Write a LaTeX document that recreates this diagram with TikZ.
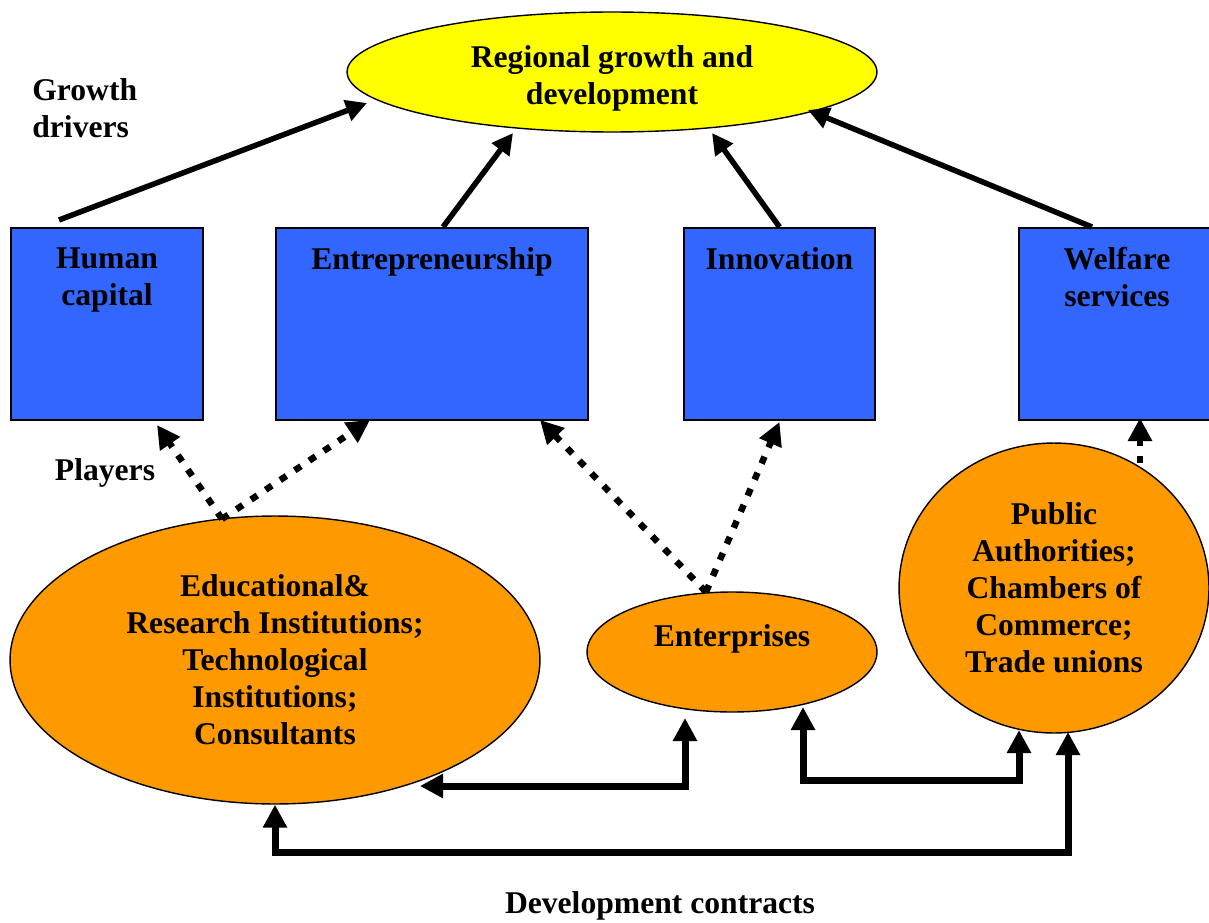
\documentclass[tikz,border=0pt]{standalone}
\usepackage{fontspec}
\setmainfont{Liberation Serif}
\usetikzlibrary{arrows.meta,shapes.geometric}
\definecolor{boxblue}{HTML}{3366FF}
\definecolor{orng}{HTML}{FF9900}
\definecolor{yel}{HTML}{FFFF00}
\begin{document}
\begin{tikzpicture}[x=0.02cm,y=-0.02cm,
  every node/.style={font=\bfseries\fontsize{18}{21}\selectfont, align=center},
  driver/.style={draw=black, line width=0.8pt, fill=boxblue, minimum height=3.84cm, inner sep=0pt},
  player/.style={ellipse, draw=black, line width=0.8pt, fill=orng, inner sep=0pt},
  goal/.style={ellipse, draw=black, line width=0.8pt, fill=yel, inner sep=0pt},
  growth/.style={-{Triangle[length=0.42cm,width=0.42cm]}, line width=0.11cm},
  dotarrow/.style={-{Triangle[length=0.46cm,width=0.46cm]}, line width=0.13cm, dash pattern=on 0.15cm off 0.2cm},
  contract/.style={{Triangle[length=0.46cm,width=0.46cm]}-{Triangle[length=0.46cm,width=0.46cm]}, line width=0.14cm},
  side/.style={align=left, inner sep=0pt},
  boxlabel/.style={anchor=north, yshift=-0.28cm},
]
\clip (0,0) rectangle (1209,922);
\fill[white] (0,0) rectangle (1209,922);

% goal
\node[goal, minimum width=10.6cm, minimum height=2.4cm] (goal) at (612,72) {};
\node (goaltext) at (612,78) {Regional growth and\\development};

% growth drivers
\node[driver, minimum width=3.84cm, label={[boxlabel]north:Human\\capital}] (hc) at (107,324) {};
\node[driver, minimum width=6.24cm, label={[boxlabel]north:Entrepreneurship}] (ent) at (432,324) {};
\node[driver, minimum width=3.82cm, label={[boxlabel]north:Innovation}] (inn) at (779.5,324) {};
\node[driver, minimum width=3.92cm, label={[boxlabel]north:Welfare\\services}] (wel) at (1117,324) {};

% players
\node[player, minimum width=10.6cm, minimum height=5.76cm] (edu) at (275,660)
  {Educational\&\\Research Institutions;\\Technological\\Institutions;\\Consultants};
\node[player, minimum width=5.8cm, minimum height=2.4cm] (firm) at (732,652) {};
\node (firmtext) at (732,639) {Enterprises};
\node[player, minimum width=6.2cm, minimum height=5.8cm] (pub) at (1054,588)
  {Public\\Authorities;\\Chambers of\\Commerce;\\Trade unions};

% side labels
\node[side, anchor=west] (gd) at (32,108) {Growth\\drivers};
\node (pl) at (105,473) {Players};
\node (dc) at (660,906) {Development contracts};

% growth arrows
\draw[growth] ([shift={(-48,-104)}]hc.center) -- ([shift={(-245,31)}]goal.center);
\draw[growth] ([shift={(11,-97)}]ent.center) -- ([shift={(-99,61)}]goal.center);
\draw[growth] ([shift={(0,-97)}]inn.center) -- ([shift={(100,61)}]goal.center);
\draw[growth] ([shift={(-25,-97)}]wel.center) -- ([shift={(196,38)}]goal.center);

% dotted arrows
\draw[dotarrow] ([shift={(-53,-141)}]edu.center) -- ([shift={(50,101)}]hc.center);
\draw[dotarrow] ([shift={(-53,-141)}]edu.center) -- ([shift={(-62,96)}]ent.center);
\draw[dotarrow] ([shift={(-26,-60)}]firm.center) -- ([shift={(108,96)}]ent.center);
\draw[dotarrow] ([shift={(-26,-60)}]firm.center) -- ([shift={(0,98)}]inn.center);
\draw[dotarrow] ([shift={(86,-125)}]pub.center) -- ([shift={(23,94)}]wel.center);

% contracts
\coordinate (r2) at (0,780);
\coordinate (r3) at (0,852);
\coordinate (fb) at ([shift={(71,55)}]firm.center);
\draw[contract] ([shift={(145,126)}]edu.center) -| ([shift={(-47,66)}]firm.center);
\draw[contract] (fb) -- (fb |- r2) -| ([shift={(-35,142)}]pub.center);
\draw[contract] (edu.south) -- (edu.south |- r3) -| ([shift={(14,144)}]pub.center);
\end{tikzpicture}
\end{document}
